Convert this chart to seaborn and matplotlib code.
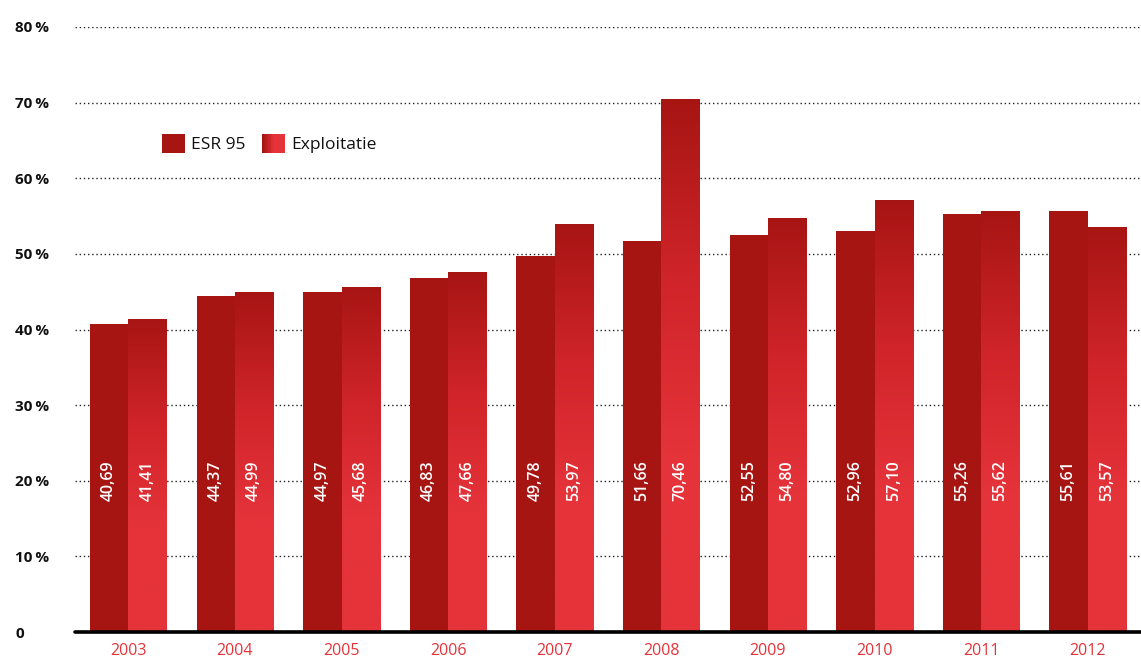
import numpy as np
import pandas as pd
import matplotlib
matplotlib.use("Agg")
import matplotlib.pyplot as plt
import seaborn as sns
from matplotlib.colors import LinearSegmentedColormap
from matplotlib.legend_handler import HandlerBase
from matplotlib.patches import Rectangle

years = ["2003", "2004", "2005", "2006", "2007", "2008", "2009", "2010", "2011", "2012"]
esr95 = [40.69, 44.37, 44.97, 46.83, 49.78, 51.66, 52.55, 52.96, 55.26, 55.61]
exploitatie = [41.41, 44.99, 45.68, 47.66, 53.97, 70.46, 54.80, 57.10, 55.62, 53.57]
series_names = ["ESR 95", "Exploitatie"]
y_ticks = [0, 10, 20, 30, 40, 50, 60, 70, 80]
y_tick_labels = ["0", "10\u2009%", "20\u2009%", "30\u2009%", "40\u2009%", "50\u2009%", "60\u2009%", "70\u2009%", "80\u2009%"]

DARK = "#a71513"
BRIGHT = "#e5333a"

df = pd.DataFrame({
    "year": years * 2,
    "value": esr95 + exploitatie,
    "series": [series_names[0]] * len(years) + [series_names[1]] * len(years),
})

sns.set_theme(style="white")
plt.rcParams["font.family"] = ["Open Sans", "DejaVu Sans"]

fig = plt.figure(figsize=(11.41, 6.59), dpi=100)
ax = fig.add_axes([75 / 1141, 27 / 659, 1 - 75 / 1141, (632 - 27) / 659])

sns.barplot(data=df, x="year", y="value", hue="series", palette=[DARK, BRIGHT],
            width=0.72, saturation=1, ax=ax, legend=False, zorder=2)

# vertical gradient on the Exploitatie bars: dark at the top, bright lower down
grad_cmap = LinearSegmentedColormap.from_list("grad", [BRIGHT, BRIGHT, "#cf2429", DARK])
n = len(years)
esr_patches = ax.patches[:n]
exp_patches = ax.patches[n:2 * n]
for p in exp_patches:
    x0, w, h = p.get_x(), p.get_width(), p.get_height()
    grad = np.linspace(0, 1, 256).reshape(-1, 1)
    im = ax.imshow(grad, cmap=grad_cmap, aspect="auto", origin="lower",
                   extent=[x0, x0 + w, 0, h], zorder=2.5)
    im.set_clip_path(p)
    p.set_edgecolor("none")
for p in esr_patches:
    p.set_edgecolor("none")
ax.set_xlim(-0.5, len(years) - 0.5)
ax.set_ylim(0, 80)

# value labels inside the bars
for patches, vals in ((esr_patches, esr95), (exp_patches, exploitatie)):
    for p, v in zip(patches, vals):
        ax.text(p.get_x() + p.get_width() / 2, 20, f"{v:.2f}".replace(".", ","),
                rotation=90, ha="center", va="center", color="white",
                fontsize=11.5, fontweight="semibold", zorder=4)

# grid lines
for t in y_ticks[1:]:
    ax.axhline(t, color="#222222", linestyle=(0, (1, 2)), linewidth=1.0, zorder=1)
ax.axhline(0, color="black", linewidth=2.6, zorder=5, clip_on=False)

for s in ax.spines.values():
    s.set_visible(False)

ax.set_yticks(y_ticks)
ax.set_yticklabels(y_tick_labels, fontsize=11, fontweight="bold", color="#111111")
for lbl in ax.get_yticklabels():
    lbl.set_ha("left")
ax.tick_params(axis="y", length=0, pad=43)
ax.tick_params(axis="x", length=0, pad=8, labelsize=11.5, labelcolor=BRIGHT)
ax.set_xlabel("")
ax.set_ylabel("")


class GradientHandler(HandlerBase):
    def create_artists(self, legend, orig_handle, xdescent, ydescent, width, height, fontsize, trans):
        cols = LinearSegmentedColormap.from_list("lg", [DARK, BRIGHT, BRIGHT])
        steps = 16
        arts = []
        for i in range(steps):
            r = Rectangle((-xdescent + width * i / steps, -ydescent), width / steps + 0.3, height,
                          facecolor=cols(i / (steps - 1)), edgecolor="none", transform=trans)
            arts.append(r)
        return arts


h1 = Rectangle((0, 0), 1, 1, facecolor=DARK, edgecolor="none")
h2 = Rectangle((0, 0), 1, 1, facecolor=BRIGHT, edgecolor="none")
leg = ax.legend([h1, h2], series_names, handler_map={h2: GradientHandler()},
                loc="upper left", bbox_to_anchor=(80 / 1066, 1 - 100 / 605), ncol=2,
                frameon=False, fontsize=12.5, handlelength=1.3, handleheight=1.3,
                handletextpad=0.35, columnspacing=1.0, borderaxespad=0)
for t in leg.get_texts():
    t.set_color("#111111")

fig.savefig("out.png", dpi=100)
